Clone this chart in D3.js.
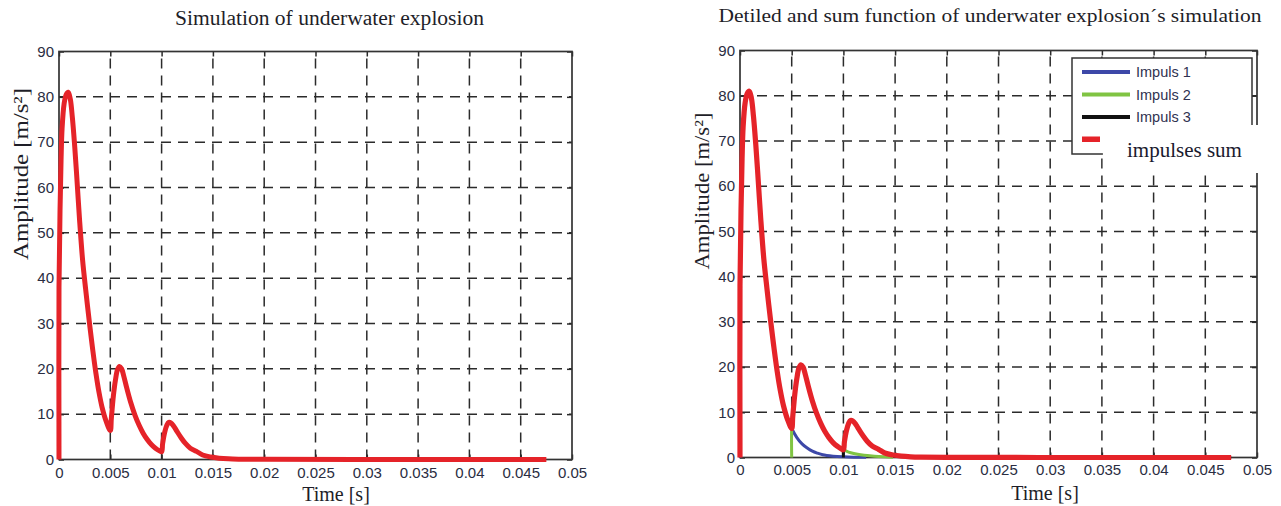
<!DOCTYPE html>
<html>
<head>
<meta charset="utf-8">
<script src="https://cdn.jsdelivr.net/npm/d3@7"></script>
<style>
  body { margin: 0; background: #fff; }
  svg { display: block; }
</style>
</head>
<body>
<div id="chart"></div>
<script>
// tick values
const timeTicks = [0, 0.005, 0.01, 0.015, 0.02, 0.025, 0.03, 0.035, 0.04, 0.045, 0.05];
const ampTicks = [0, 10, 20, 30, 40, 50, 60, 70, 80, 90];

// impulses sum (red curve)
const sumTime = [0, 0, 0.0001, 0.0002, 0.0003, 0.0005, 0.0007, 0.0009, 0.0011, 0.0013, 0.0015,
  0.0017, 0.002, 0.0023, 0.0026, 0.003, 0.0033, 0.0036, 0.0039, 0.0042, 0.0046, 0.005,
  0.0051, 0.0053, 0.0055, 0.0057, 0.0059, 0.0061, 0.0063, 0.0066, 0.007, 0.0074, 0.0078,
  0.0082, 0.0086, 0.009, 0.0094, 0.0098, 0.01,
  0.0101, 0.0103, 0.0105, 0.0107, 0.0109, 0.0112, 0.0115, 0.0119, 0.0123, 0.0128, 0.0134,
  0.014, 0.0148, 0.0156, 0.0165, 0.0175, 0.02, 0.03, 0.0475];
const sumAmp = [0, 38, 55, 66, 73, 78.5, 80.5, 81, 79.5, 75.5, 70,
  63.5, 53, 44, 37.5, 29.5, 24, 19, 14.8, 11.5, 8.4, 6.4,
  9, 14, 17.5, 19.8, 20.5, 20, 18.5, 15.8, 12.5, 9.8, 7.6,
  5.8, 4.4, 3.3, 2.5, 1.9, 1.7,
  3.5, 6, 7.5, 8.2, 8.1, 7.3, 6.2, 4.8, 3.6, 2.5, 1.8,
  1.0, 0.55, 0.3, 0.15, 0.08, 0.03, 0, 0];

// Impuls 1 tail after 0.005 (blue)
const imp1TailTime = [0.0055, 0.006, 0.0065, 0.007, 0.0075, 0.008, 0.009, 0.01, 0.011, 0.0122];
const imp1TailAmp = [4.4, 3.0, 2.1, 1.4, 0.95, 0.6, 0.3, 0.15, 0.07, 0.03];

// Impuls 2 tail after 0.01 (green)
const imp2TailTime = [0.0105, 0.011, 0.012, 0.013, 0.014, 0.0148];
const imp2TailAmp = [1.2, 0.9, 0.5, 0.3, 0.15, 0.05];

const legendLabels = ['Impuls 1', 'Impuls 2', 'Impuls 3'];
const legendColors = ['#3d48a8', '#80c443', '#111111'];
const sumColor = '#e52329';

const sumPts = sumTime.map((t, i) => ({ t: t, a: sumAmp[i] }));
const imp1Pts = sumPts.filter(d => d.t <= 0.005)
  .concat(imp1TailTime.map((t, i) => ({ t: t, a: imp1TailAmp[i] })));
const imp2Pts = [{ t: 0.005, a: 0 }]
  .concat(sumPts.filter(d => d.t >= 0.005 && d.t <= 0.01 && !(d.t === 0.005 && d.a === 0)))
  .concat(imp2TailTime.map((t, i) => ({ t: t, a: imp2TailAmp[i] })));
const imp3Pts = [{ t: 0.01, a: 0 }].concat(sumPts.filter(d => d.t >= 0.01));

const svg = d3.select('#chart')
  .append('svg')
  .attr('width', 1281)
  .attr('height', 506);

const serif = '"Liberation Serif", "Times New Roman", serif';
const sans = '"Liberation Sans", Arial, sans-serif';

function createPanel(p) {
  let x = d3.scaleLinear().domain([0, 0.05]).range([p.x0, p.x1]);
  let y = d3.scaleLinear().domain([0, 90]).range([p.y0, p.y1]);
  let g = svg.append('g');

  // dashed grid
  g.selectAll('.vgrid')
    .data(timeTicks.slice(1, -1))
    .enter()
    .append('line')
    .attr('x1', d => x(d)).attr('x2', d => x(d))
    .attr('y1', p.y0).attr('y2', p.y1)
    .attr('stroke', '#2b2b2b')
    .attr('stroke-width', 1.5)
    .attr('stroke-dasharray', '10,7');

  g.selectAll('.hgrid')
    .data(ampTicks.slice(1, -1))
    .enter()
    .append('line')
    .attr('x1', p.x0).attr('x2', p.x1)
    .attr('y1', d => y(d)).attr('y2', d => y(d))
    .attr('stroke', '#2b2b2b')
    .attr('stroke-width', 1.5)
    .attr('stroke-dasharray', '10,7');

  // inward ticks on all four sides
  let tickAxes = [
    [d3.axisBottom(x).tickValues(timeTicks), `translate(0,${p.y0})`],
    [d3.axisTop(x).tickValues(timeTicks), `translate(0,${p.y1})`],
    [d3.axisLeft(y).tickValues(ampTicks), `translate(${p.x0},0)`],
    [d3.axisRight(y).tickValues(ampTicks), `translate(${p.x1},0)`]
  ];
  tickAxes.forEach(a => {
    let ax = g.append('g')
      .attr('transform', a[1])
      .call(a[0].tickSize(-5).tickFormat(''));
    ax.select('.domain').remove();
    ax.selectAll('line').attr('stroke', '#2b2b2b').attr('stroke-width', 1.5);
  });

  // frame
  g.append('rect')
    .attr('x', p.x0).attr('y', p.y1)
    .attr('width', p.x1 - p.x0).attr('height', p.y0 - p.y1)
    .attr('fill', 'none')
    .attr('stroke', '#333')
    .attr('stroke-width', 1.7);

  // tick labels
  let xl = g.append('g')
    .attr('transform', `translate(0,${p.y0})`)
    .call(d3.axisBottom(x).tickValues(timeTicks).tickSize(0).tickPadding(p.xPad)
      .tickFormat(d => String(d)));
  xl.select('.domain').remove();
  xl.selectAll('text')
    .attr('fill', '#2a2d42')
    .style('font-family', sans)
    .style('font-size', '15px');

  let yl = g.append('g')
    .attr('transform', `translate(${p.x0},0)`)
    .call(d3.axisLeft(y).tickValues(ampTicks).tickSize(0).tickPadding(5));
  yl.select('.domain').remove();
  yl.selectAll('text')
    .attr('fill', '#2a2d42')
    .style('font-family', sans)
    .style('font-size', '15px');

  // curves
  let line = d3.line()
    .x(d => x(d.t))
    .y(d => y(d.a))
    .curve(d3.curveCatmullRom.alpha(0.5));

  if (p.legend) {
    [imp1Pts, imp2Pts, imp3Pts].forEach((pts, i) => {
      g.append('path')
        .datum(pts)
        .attr('d', line)
        .attr('fill', 'none')
        .attr('stroke', legendColors[i])
        .attr('stroke-width', 3);
    });
  }

  g.append('path')
    .datum(sumPts)
    .attr('d', line)
    .attr('fill', 'none')
    .attr('stroke', sumColor)
    .attr('stroke-width', p.sumWidth)
    .attr('stroke-linejoin', 'round');

  // titles
  g.append('text')
    .attr('x', p.titleX).attr('y', p.titleY)
    .attr('text-anchor', 'middle')
    .attr('textLength', p.titleLen)
    .attr('lengthAdjust', 'spacingAndGlyphs')
    .attr('fill', '#1e1e28')
    .style('font-family', serif)
    .style('font-size', p.titleSize + 'px')
    .text(p.title);

  g.append('text')
    .attr('x', p.xlabX).attr('y', p.xlabY)
    .attr('text-anchor', 'middle')
    .attr('fill', '#1e1e28')
    .style('font-family', serif)
    .style('font-size', '20px')
    .text('Time [s]');

  g.append('text')
    .attr('transform', `translate(${p.ylabX},${p.ylabY}) rotate(-90)`)
    .attr('text-anchor', 'middle')
    .attr('textLength', p.ylabLen)
    .attr('lengthAdjust', 'spacingAndGlyphs')
    .attr('fill', '#1e1e28')
    .style('font-family', serif)
    .style('font-size', '21px')
    .text('Amplitude [m/s²]');

  if (!p.legend) return;

  // legend
  let lg = g.append('g');
  lg.append('rect')
    .attr('x', 1072).attr('y', 58)
    .attr('width', 180).attr('height', 96)
    .attr('fill', '#fff')
    .attr('stroke', '#333')
    .attr('stroke-width', 1.5);

  let item = lg.selectAll('.item')
    .data(legendLabels)
    .enter()
    .append('g')
    .attr('transform', (d, i) => `translate(1082,${72 + i * 22.5})`);

  item.append('line')
    .attr('x1', 0).attr('x2', 48)
    .attr('stroke', (d, i) => legendColors[i])
    .attr('stroke-width', 3.8);

  item.append('text')
    .attr('x', 54).attr('y', 5)
    .attr('fill', '#2f3250')
    .style('font-family', sans)
    .style('font-size', '14.5px')
    .text(d => d);

  // pasted label patch that hides the legend corner and the right border
  lg.append('rect')
    .attr('x', x(0.035) + 1).attr('y', 125)
    .attr('width', 1265 - x(0.035)).attr('height', 48)
    .attr('fill', '#fff');

  lg.append('rect')
    .attr('x', 1082).attr('y', 136.5)
    .attr('width', 18).attr('height', 5.5)
    .attr('fill', sumColor);

  lg.append('text')
    .attr('x', 1127).attr('y', 157)
    .attr('fill', '#1a1a2e')
    .style('font-family', serif)
    .style('font-size', '21px')
    .text('impulses sum');
}

createPanel({
  x0: 59, x1: 572, y0: 459.5, y1: 51.5, xPad: 8,
  title: 'Simulation of underwater explosion', titleX: 329.5, titleY: 25, titleLen: 309, titleSize: 20,
  xlabX: 336, xlabY: 501, ylabX: 28, ylabY: 174, ylabLen: 172,
  sumWidth: 5, legend: false
});

createPanel({
  x0: 740, x1: 1257, y0: 457.5, y1: 50.5, xPad: 7,
  title: 'Detiled and sum function of underwater explosion´s simulation', titleX: 990, titleY: 22, titleLen: 543, titleSize: 19,
  xlabX: 1045, xlabY: 500, ylabX: 709, ylabY: 191, ylabLen: 157,
  sumWidth: 5.2, legend: true
});
</script>
</body>
</html>
